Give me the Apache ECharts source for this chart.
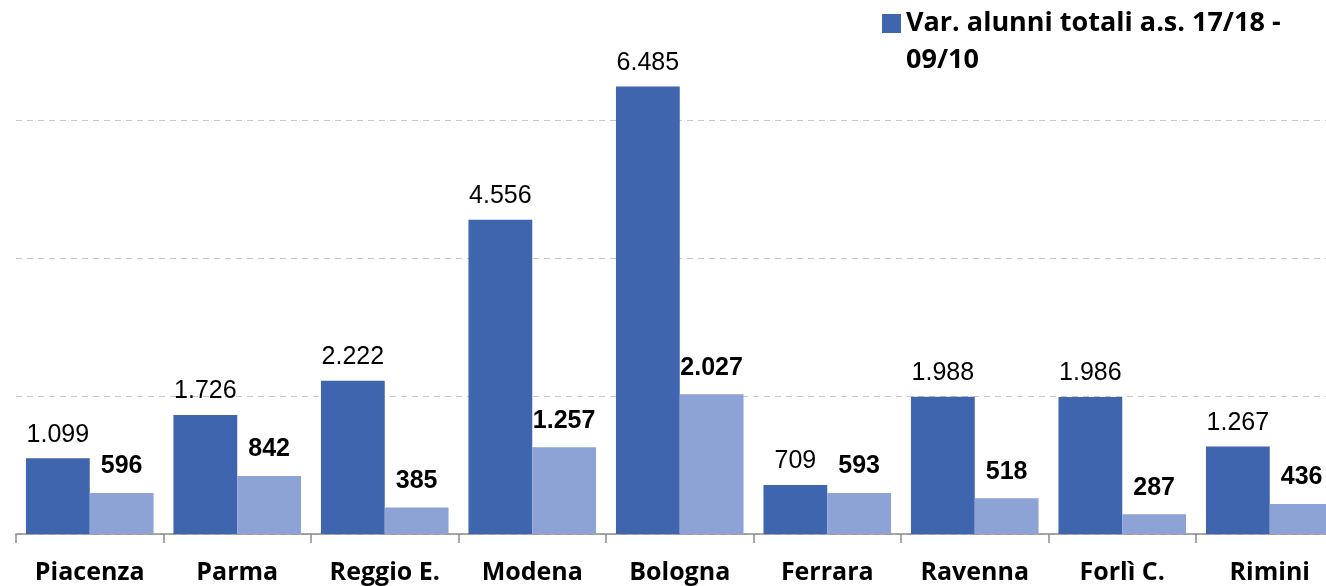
<!DOCTYPE html>
<html>
<head>
<meta charset="utf-8">
<script src="https://cdn.jsdelivr.net/npm/echarts@6/dist/echarts.min.js"></script>
<style>
  html, body { margin: 0; padding: 0; background: #ffffff; }
  #chart { width: 1326px; height: 586px; }
</style>
</head>
<body>
<div id="chart"></div>
<script>
// Provinces of Emilia-Romagna
const categories = ['Piacenza', 'Parma', 'Reggio E.', 'Modena', 'Bologna', 'Ferrara', 'Ravenna', 'Forlì C.', 'Rimini'];
// Change in total pupils, school years 17/18 vs 09/10
const totalPupilsChange = [1099, 1726, 2222, 4556, 6485, 709, 1988, 1986, 1267];
// Second (lighter) series
const secondSeries = [596, 842, 385, 1257, 2027, 593, 518, 287, 436];
const seriesNames = ['Var. alunni totali a.s. 17/18 - 09/10', 'Var. alunni stranieri'];

// Italian thousands separator
function fmt(v) {
  return String(v).replace(/\B(?=(\d{3})+(?!\d))/g, '.');
}

const chart = echarts.init(document.getElementById('chart'), null, { renderer: 'canvas' });

const valueFont = '"Liberation Sans", Arial, sans-serif';
const labelFont = '"Open Sans", Lato, sans-serif';

// Square swatch sitting at the top of a taller icon box, so it lines up
// with the first line of the two-line legend text
const legendSwatch = 'path://M0,0H19V19H0Z M0,56L0.001,56';

chart.setOption({
  animation: false,
  backgroundColor: '#ffffff',
  grid: {
    left: 16, width: 1327.5, top: -18, height: 552,
    containLabel: false, outerBoundsMode: 'none'
  },
  legend: {
    data: [seriesNames[0]],
    left: 882, top: 5,
    padding: 0,
    itemWidth: 19, itemHeight: 56,
    itemGap: 6,
    icon: legendSwatch,
    formatter: name => name.replace(' - ', ' -\n'),
    textStyle: {
      fontFamily: labelFont, fontWeight: 'bold', fontSize: 27, color: '#000',
      lineHeight: 37
    }
  },
  xAxis: {
    type: 'category',
    data: categories,
    axisLine: { lineStyle: { color: '#8c8c8c', width: 1.5 } },
    axisTick: { show: true, length: 9, lineStyle: { color: '#8c8c8c', width: 1.5 } },
    axisLabel: {
      margin: 26, interval: 0,
      fontFamily: labelFont, fontWeight: 'bold', fontSize: 25, color: '#000'
    }
  },
  yAxis: {
    type: 'value',
    min: 0, max: 8000, interval: 2000,
    axisLabel: { show: false },
    axisLine: { show: false },
    axisTick: { show: false },
    splitLine: { lineStyle: { color: '#c8c8c8', type: [6, 5], width: 1.2 } }
  },
  series: [
    {
      name: seriesNames[0],
      type: 'bar',
      data: totalPupilsChange,
      barGap: '0%',
      barCategoryGap: '13.5%',
      itemStyle: { color: '#3E65AE' },
      label: {
        show: true, position: 'top', distance: 11,
        fontFamily: valueFont, fontSize: 25, color: '#000',
        formatter: p => fmt(p.value)
      }
    },
    {
      name: seriesNames[1],
      type: 'bar',
      data: secondSeries,
      barGap: '0%',
      barCategoryGap: '13.5%',
      itemStyle: { color: '#8EA3D5' },
      label: {
        show: true, position: 'top', distance: 14,
        fontFamily: valueFont, fontWeight: 'bold', fontSize: 25, color: '#000',
        formatter: p => fmt(p.value)
      }
    }
  ]
});
</script>
</body>
</html>
